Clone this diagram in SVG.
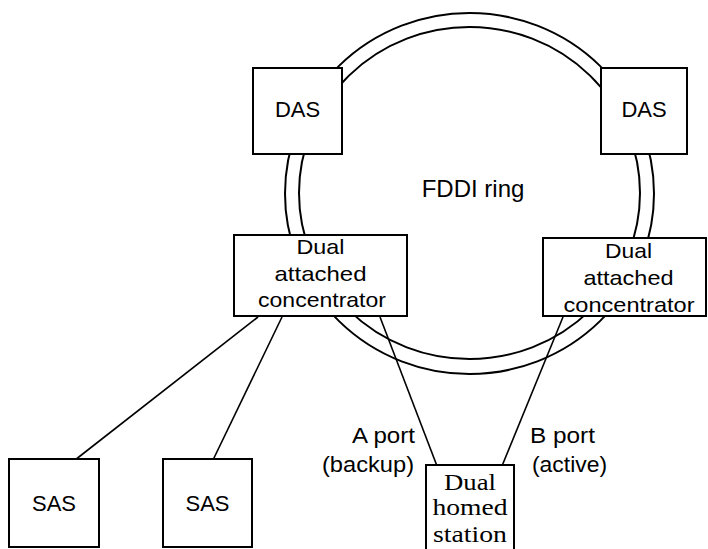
<svg xmlns="http://www.w3.org/2000/svg" width="708" height="549" viewBox="0 0 708 549">
  <style>
    .box { fill: #ffffff; stroke: #000000; stroke-width: 2; }
    .ring { fill: none; stroke: #000000; stroke-width: 2; }
    .link { fill: none; stroke: #000000; stroke-width: 1.6; }
    .sans { font-family: "Liberation Sans", Arial, sans-serif; fill: #000000; }
    .serif { font-family: "Liberation Serif", "Times New Roman", serif; fill: #000000; }
    .mid { text-anchor: middle; }
  </style>
  <rect x="0" y="0" width="708" height="549" fill="#ffffff"/>

  <!-- dual counter-rotating ring -->
  <g id="ring">
    <ellipse class="ring" cx="469.5" cy="193.5" rx="184.5" ry="180.5"/>
    <ellipse class="ring" cx="469.5" cy="193" rx="170.5" ry="166"/>
    <text class="sans mid" x="473" y="197" font-size="24">FDDI ring</text>
  </g>

  <!-- attachment links -->
  <g id="connectors">
    <line class="link" x1="258" y1="317" x2="75" y2="460"/>
    <line class="link" x1="282" y1="317" x2="213" y2="460"/>
    <line class="link" x1="380" y1="317" x2="437" y2="466"/>
    <line class="link" x1="563" y1="317" x2="502" y2="466"/>
    <text class="sans" x="352" y="443" font-size="22" textLength="63" lengthAdjust="spacingAndGlyphs">A port</text>
    <text class="sans" x="322" y="472" font-size="22" textLength="92" lengthAdjust="spacingAndGlyphs">(backup)</text>
    <text class="sans" x="530" y="443" font-size="22" textLength="65" lengthAdjust="spacingAndGlyphs">B port</text>
    <text class="sans" x="532" y="472" font-size="22" textLength="75" lengthAdjust="spacingAndGlyphs">(active)</text>
  </g>

  <g id="das-left">
    <rect class="box" x="253" y="68" width="89" height="86"/>
    <text class="sans mid" x="297.5" y="117" font-size="22">DAS</text>
  </g>

  <g id="das-right">
    <rect class="box" x="601" y="68" width="86" height="86"/>
    <text class="sans mid" x="644" y="117" font-size="22">DAS</text>
  </g>

  <g id="dac-left">
    <rect class="box" x="234" y="235" width="173" height="81"/>
    <text class="sans mid" x="320.5" y="254" font-size="21" textLength="48" lengthAdjust="spacingAndGlyphs">Dual</text>
    <text class="sans mid" x="320.5" y="281" font-size="21" textLength="92" lengthAdjust="spacingAndGlyphs">attached</text>
    <text class="sans mid" x="322" y="307" font-size="21" textLength="128" lengthAdjust="spacingAndGlyphs">concentrator</text>
  </g>

  <g id="dac-right">
    <rect class="box" x="543" y="238" width="163" height="78"/>
    <text class="sans mid" x="628.5" y="258" font-size="21" textLength="47" lengthAdjust="spacingAndGlyphs">Dual</text>
    <text class="sans mid" x="628.5" y="285" font-size="21" textLength="90" lengthAdjust="spacingAndGlyphs">attached</text>
    <text class="sans mid" x="629" y="312" font-size="21" textLength="131" lengthAdjust="spacingAndGlyphs">concentrator</text>
  </g>

  <g id="sas-1">
    <rect class="box" x="9" y="459" width="90" height="88"/>
    <text class="sans mid" x="54" y="511" font-size="22">SAS</text>
  </g>

  <g id="sas-2">
    <rect class="box" x="163" y="459" width="89" height="88"/>
    <text class="sans mid" x="207.5" y="511" font-size="22">SAS</text>
  </g>

  <g id="dual-homed-station">
    <rect class="box" x="426" y="465" width="88" height="95"/>
    <text class="serif mid" x="470" y="490" font-size="23" textLength="52" lengthAdjust="spacingAndGlyphs">Dual</text>
    <text class="serif mid" x="470" y="515" font-size="23" textLength="75" lengthAdjust="spacingAndGlyphs">homed</text>
    <text class="serif mid" x="470" y="542" font-size="23" textLength="74" lengthAdjust="spacingAndGlyphs">station</text>
  </g>
</svg>
